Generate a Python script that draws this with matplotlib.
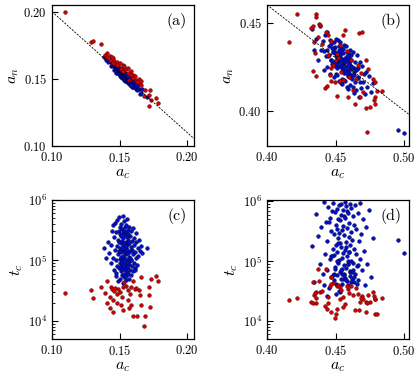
import numpy as np
import matplotlib; matplotlib.use('Agg')
import matplotlib.pyplot as plt
from matplotlib.ticker import FuncFormatter, LogLocator

plt.rcParams.update({
    'font.family': 'serif', 'font.serif': ['cmr10'], 'mathtext.fontset': 'cm',
    'axes.formatter.use_mathtext': True, 'font.size': 9,
    'xtick.direction': 'in', 'ytick.direction': 'in',
})

# ---- system 1: panels (a), (c) ----
ac1_blue = [.1421, .1435, .1440, .1448, .1452, .1455, .1460, .1463, .1466, .1470,
            .1472, .1475, .1477, .1480, .1482, .1484, .1486, .1488, .1490, .1492,
            .1494, .1495, .1497, .1498, .1500, .1501, .1502, .1504, .1505, .1506,
            .1507, .1508, .1510, .1511, .1512, .1513, .1514, .1515, .1516, .1517,
            .1518, .1519, .1520, .1521, .1522, .1523, .1524, .1525, .1526, .1527,
            .1528, .1529, .1530, .1531, .1532, .1533, .1534, .1535, .1536, .1537,
            .1538, .1539, .1540, .1541, .1542, .1543, .1544, .1545, .1546, .1547,
            .1548, .1549, .1550, .1551, .1552, .1553, .1554, .1555, .1556, .1557,
            .1558, .1559, .1560, .1561, .1562, .1563, .1564, .1565, .1566, .1567,
            .1568, .1570, .1572, .1574, .1576, .1578, .1580, .1582, .1584, .1586,
            .1588, .1590, .1592, .1594, .1596, .1598, .1600, .1603, .1606, .1609,
            .1612, .1615, .1618, .1621, .1625, .1629, .1633, .1638, .1643, .1650,
            .1658, .1668, .1700, .1445, .1412, .1385, .1398, .1561, .1587, .1617]
an1_blue = [.1631, .1594, .1626, .1593, .1599, .1565, .1602, .1574, .1610, .1558,
            .1571, .1579, .1545, .1584, .1557, .1593, .1544, .1571, .1544, .1579,
            .1571, .1546, .1582, .1533, .1560, .1534, .1570, .1542, .1552, .1519,
            .1529, .1565, .1537, .1546, .1513, .1554, .1528, .1566, .1517, .1545,
            .1540, .1507, .1548, .1522, .1559, .1510, .1538, .1513, .1549, .1522,
            .1516, .1553, .1504, .1532, .1506, .1542, .1515, .1525, .1492, .1533,
            .1538, .1511, .1520, .1487, .1528, .1502, .1539, .1491, .1519, .1493,
            .1481, .1522, .1496, .1533, .1484, .1512, .1486, .1523, .1496, .1505,
            .1527, .1478, .1506, .1480, .1516, .1489, .1498, .1466, .1507, .1481,
            .1499, .1472, .1507, .1479, .1488, .1454, .1494, .1467, .1503, .1454,
            .1467, .1475, .1441, .1481, .1455, .1491, .1441, .1467, .1440, .1474,
            .1465, .1438, .1473, .1422, .1448, .1419, .1452, .1422, .1427, .1389,
            .1393, .1421, .1366, .1606, .1625, .1662, .1640, .1524, .1453, .1455]
tc1_blue = [1.3e5, 0.9e5, 1.8e5, 3.9e5, 1.1e5, 2.4e5, 0.7e5, 4.2e5, 1.5e5, 0.55e5,
            2.9e5, 1.0e5, 0.62e5, 1.7e5, 4.6e5, 0.8e5, 2.2e5, 1.25e5, 0.45e5, 3.1e5,
            1.4e5, 5.2e5, 0.75e5, 2.0e5, 1.05e5, 0.5e5, 2.7e5, 1.6e5, 0.9e5, 3.6e5,
            0.66e5, 1.9e5, 1.15e5, 4.0e5, 0.8e5, 2.5e5, 1.35e5, 0.58e5, 2.1e5, 1.0e5,
            3.3e5, 0.72e5, 1.55e5, 0.95e5, 2.8e5, 0.42e5, 1.2e5, 5.5e5, 1.75e5, 0.85e5,
            2.3e5, 1.1e5, 0.6e5, 3.0e5, 1.45e5, 0.78e5, 4.4e5, 1.9e5, 0.52e5, 1.3e5,
            0.9e5, 2.6e5, 1.4e5, 0.68e5, 3.5e5, 1.05e5, 2.0e5, 0.47e5, 1.6e5, 2.9e5,
            1.25e5, 0.56e5, 3.8e5, 1.7e5, 0.82e5, 2.4e5, 1.0e5, 0.64e5, 4.8e5, 1.5e5,
            0.74e5, 2.2e5, 1.3e5, 3.2e5, 0.6e5, 1.85e5, 0.95e5, 2.7e5, 0.5e5, 1.15e5,
            1.9e5, 0.88e5, 3.6e5, 1.4e5, 0.7e5, 2.5e5, 1.1e5, 0.58e5, 1.65e5, 3.0e5,
            1.0e5, 2.1e5, 0.8e5, 1.5e5, 3.4e5, 0.66e5, 1.25e5, 2.3e5, 0.9e5, 1.8e5,
            1.35e5, 0.75e5, 2.0e5, 1.1e5, 2.8e5, 0.85e5, 1.6e5, 1.2e5, 2.2e5, 1.4e5,
            1.7e5, 1.3e5, 1.6e5, 3.0e5, 2.0e5, 1.6e5, 1.1e5, 0.8e5, 1.0e5, 0.7e5]

ac1_red = [.1098, .1287, .1304, .1363, .1392, .1404, .1409, .1429, .1453, .1436,
           .1446, .1458, .1466, .1478, .1490, .1502, .1515, .1522, .1534, .1551,
           .1561, .1576, .1588, .1600, .1613, .1625, .1642, .1650, .1564, .1583,
           .1571, .1596, .1627, .1662, .1686, .1681, .1728, .1718, .1718, .1735,
           .1772, .1784, .1662, .1510, .1527, .1453, .1478, .1429]
an1_red = [.2000, .1771, .1785, .1759, .1677, .1690, .1660, .1668, .1652, .1640,
           .1660, .1630, .1612, .1625, .1605, .1618, .1582, .1600, .1594, .1570,
           .1577, .1543, .1560, .1530, .1520, .1490, .1500, .1462, .1540, .1525,
           .1490, .1505, .1475, .1453, .1420, .1372, .1416, .1379, .1295, .1345,
           .1360, .1316, .1480, .1570, .1555, .1620, .1600, .1640]
tc1_red = [2.9e4, 3.2e4, 2.4e4, 3.6e4, 2.9e4, 4.6e4, 2.0e4, 1.6e4, 1.4e4, 3.6e4,
           3.3e4, 3.1e4, 3.5e4, 2.8e4, 3.3e4, 3.0e4, 2.5e4, 3.6e4, 4.4e4, 3.8e4,
           3.2e4, 2.8e4, 3.6e4, 4.6e4, 3.3e4, 3.5e4, 3.2e4, 2.7e4, 2.2e4, 1.8e4,
           1.6e4, 1.2e4, 1.2e4, 1.8e4, 1.2e4, 8.1e3, 1.7e4, 2.7e4, 3.6e4, 4.9e4,
           5.5e4, 4.6e4, 5.3e4, 1.8e4, 1.5e4, 2.2e4, 2.0e4, 2.5e4]

# ---- system 2: panels (b), (d) ----
ac2_blue = [.4330, .4345, .4360, .4372, .4385, .4395, .4405, .4412, .4420, .4428,
            .4435, .4440, .4446, .4452, .4457, .4462, .4466, .4470, .4474, .4478,
            .4482, .4485, .4488, .4491, .4494, .4497, .4500, .4502, .4505, .4507,
            .4510, .4512, .4514, .4516, .4518, .4520, .4522, .4524, .4526, .4528,
            .4530, .4532, .4534, .4536, .4538, .4540, .4542, .4544, .4546, .4548,
            .4550, .4552, .4554, .4556, .4558, .4560, .4562, .4564, .4566, .4568,
            .4570, .4572, .4574, .4576, .4578, .4580, .4582, .4584, .4586, .4588,
            .4590, .4592, .4594, .4596, .4598, .4600, .4602, .4604, .4606, .4608,
            .4610, .4613, .4616, .4619, .4622, .4625, .4628, .4631, .4634, .4637,
            .4640, .4644, .4648, .4652, .4656, .4660, .4665, .4670, .4675, .4680,
            .4686, .4692, .4698, .4705, .4712, .4720, .4730, .4742, .4755, .4770,
            .4438, .4468, .4492, .4515, .4535, .4557, .4579, .4603, .4627, .4655,
            .4455, .4480, .4509, .4541, .4573, .4601, .4633, .4662, .4500, .4550,
            .4495, .4955, .5000, .4528, .4588, .4618, .4418, .4472, .4562, .4610]
an2_blue = [.4462, .4343, .4404, .4287, .4479, .4343, .4397, .4233, .4428, .4313,
            .4249, .4446, .4312, .4369, .4206, .4403, .4290, .4378, .4266, .4333,
            .4351, .4189, .4387, .4275, .4364, .4252, .4320, .4209, .4407, .4276,
            .4244, .4313, .4202, .4400, .4269, .4328, .4167, .4366, .4254, .4343,
            .4392, .4261, .4320, .4158, .4357, .4246, .4335, .4224, .4292, .4181,
            .4150, .4349, .4238, .4326, .4215, .4284, .4173, .4372, .4240, .4299,
            .4278, .4167, .4366, .4234, .4293, .4132, .4331, .4220, .4308, .4197,
            .4226, .4285, .4124, .4322, .4211, .4300, .4189, .4258, .4146, .4345,
            .4314, .4202, .4290, .4179, .4247, .4135, .4333, .4201, .4240, .4098,
            .4276, .4164, .4231, .4120, .4317, .4184, .4241, .4078, .4275, .4162,
            .4128, .4255, .4161, .4207, .4093, .4218, .4132, .4195, .4107, .4158,
            .4347, .4289, .4355, .4281, .4309, .4266, .4213, .4248, .4204, .4237,
            .4317, .4332, .4265, .4285, .4236, .4269, .4220, .4193, .4310, .4260,
            .4333, .3893, .3873, .4263, .4257, .4249, .4339, .4357, .4253, .4234]
tc2_blue = [1.8e5, 0.45e5, 6.2e5, 2.6e5, 0.9e5, 3.8e5, 0.62e5, 9.6e5, 1.3e5, 4.5e5,
            0.7e5, 2.2e5, 8.1e5, 0.36e5, 5.3e5, 1.1e5, 3.2e5, 0.55e5, 7.0e5, 1.6e5,
            9.4e5, 0.48e5, 2.9e5, 1.25e5, 6.6e5, 0.8e5, 4.1e5, 0.42e5, 1.9e5, 3.5e5,
            0.58e5, 7.6e5, 1.45e5, 0.95e5, 5.0e5, 2.4e5, 0.38e5, 8.8e5, 1.05e5, 3.0e5,
            2.0e5, 0.66e5, 4.8e5, 9.2e5, 0.5e5, 1.7e5, 6.0e5, 0.75e5, 3.3e5, 1.15e5,
            0.42e5, 3.9e5, 1.35e5, 7.3e5, 0.85e5, 2.7e5, 0.6e5, 5.6e5, 1.55e5, 9.8e5,
            5.2e5, 0.52e5, 2.1e5, 0.78e5, 8.4e5, 1.2e5, 3.6e5, 0.46e5, 6.9e5, 1.0e5,
            0.88e5, 6.3e5, 0.4e5, 2.5e5, 1.4e5, 4.4e5, 0.68e5, 9.0e5, 1.85e5, 0.56e5,
            3.1e5, 1.0e5, 7.8e5, 0.5e5, 2.3e5, 0.72e5, 5.8e5, 1.6e5, 0.44e5, 4.0e5,
            0.62e5, 8.6e5, 1.3e5, 3.4e5, 0.82e5, 6.5e5, 0.48e5, 2.2e5, 9.5e5, 1.1e5,
            2.8e5, 0.7e5, 5.1e5, 1.5e5, 0.4e5, 3.7e5, 0.9e5, 7.2e5, 0.55e5, 2.4e5,
            0.26e5, 1.2e5, 0.6e5, 2.0e5, 0.3e5, 0.5e5, 1.7e5, 0.65e5, 0.95e5, 0.42e5,
            4.6e5, 0.58e5, 1.0e5, 0.7e5, 0.48e5, 1.4e5, 0.55e5, 0.85e5, 0.28e5, 0.6e5,
            0.75e5, 2.3e5, 1.38e5, 0.32e5, 0.9e5, 0.65e5, 0.4e5, 1.2e5, 0.58e5, 0.45e5]

ac2_red = [.4158, .4219, .4355, .4355, .4324, .4336, .4377, .4384, .4433, .4445,
           .4567, .4669, .4696, .4725, .4737, .4776, .4786, .4842, .4786, .4780,
           .4725, .4754, .4791, .4676, .4640, .4732, .4513, .4421, .4438, .4465,
           .4495, .4530, .4555, .4355, .4336, .4457, .4628, .4592, .4697, .4341,
           .4350, .4401, .4445, .4510, .4555, .4530, .4580, .4664, .4689, .4375,
           .4610, .4480, .4540, .4600, .4500, .4805, .4470, .4520, .4650, .4470]
an2_red = [.4392, .4551, .4551, .4534, .4471, .4482, .4490, .4485, .4449, .4430,
           .4460, .4439, .4449, .4285, .4234, .4177, .4160, .4114, .4076, .4062,
           .4015, .4021, .4040, .4080, .4038, .3878, .4082, .4129, .4140, .4167,
           .4160, .4167, .4175, .4196, .4224, .4205, .4120, .4080, .4105, .4392,
           .4330, .4376, .4316, .4320, .4428, .4370, .4340, .4262, .4215, .4420,
           .4290, .4260, .4220, .4190, .4290, .4110, .4240, .4300, .4180, .4395]
tc2_red = [2.2e4, 2.4e4, 2.4e4, 2.0e4, 2.1e4, 4.4e4, 4.6e4, 3.0e4, 7.4e4, 2.5e4,
           1.9e4, 1.5e4, 2.6e4, 2.1e4, 2.7e4, 3.0e4, 2.3e4, 2.4e4, 1.3e4, 2.6e4,
           1.4e4, 2.1e4, 2.3e4, 2.1e4, 1.5e4, 2.0e4, 1.6e4, 1.8e4, 1.6e4, 1.4e4,
           1.1e4, 2.3e4, 1.7e4, 3.0e4, 2.0e4, 3.8e4, 2.7e4, 3.4e4, 2.3e4, 2.7e4,
           2.9e4, 3.2e4, 2.0e4, 3.8e4, 2.5e4, 3.7e4, 3.8e4, 2.8e4, 2.4e4, 7.4e4,
           3.8e4, 4.3e4, 3.3e4, 2.9e4, 1.3e4, 1.3e4, 5.5e4, 4.0e4, 3.5e4, 4.1e4]

# guide lines (end points)
line1_x = [0.10, 0.205]
line1_y = [0.200, 0.1055]
line2_x = [0.40, 0.505]
line2_y = [0.460, 0.397]

BLUE = '#0010c8'
RED = '#d40000'
kw = dict(s=7, linewidths=0.35, zorder=3)

fig = plt.figure(figsize=(4.15, 3.8), dpi=100)
ax_a = fig.add_axes([0.1253, 0.616, 0.342, 0.371])
ax_b = fig.add_axes([0.6434, 0.616, 0.342, 0.371])
ax_c = fig.add_axes([0.1253, 0.108, 0.342, 0.366])
ax_d = fig.add_axes([0.6434, 0.108, 0.342, 0.366])

fmt2 = FuncFormatter(lambda v, p: f'${v:.2f}$')

def style(ax, label):
    ax.tick_params(which='major', length=4, width=0.8, labelsize=9)
    ax.tick_params(which='minor', length=2, width=0.6)
    for sp in ax.spines.values():
        sp.set_linewidth(0.9)
    ax.text(0.95, 0.94, label, transform=ax.transAxes, ha='right', va='top', fontsize=11.5)
    ax.set_xlabel('$a_c$', fontsize=11.5, labelpad=2)
    ax.xaxis.set_major_formatter(fmt2)

# (a)
ax = ax_a
ax.plot(line1_x, line1_y, 'k--', lw=0.6, dashes=(2.5, 1.5), zorder=4)
ax.scatter(ac1_blue, an1_blue, c=BLUE, edgecolors='#000050', **kw)
ax.scatter(ac1_red, an1_red, c=RED, edgecolors='#500000', **kw)
ax.set_xlim(0.10, 0.205); ax.set_ylim(0.10, 0.205)
ax.set_xticks([0.10, 0.15, 0.20]); ax.set_yticks([0.10, 0.15, 0.20])
ax.yaxis.set_major_formatter(fmt2)
ax.set_ylabel('$a_n$', fontsize=11.5, labelpad=2)
style(ax, '(a)')

# (b)
ax = ax_b
ax.plot(line2_x, line2_y, 'k--', lw=0.6, dashes=(2.5, 1.5), zorder=4)
ax.scatter(ac2_blue, an2_blue, c=BLUE, edgecolors='#000050', **kw)
ax.scatter(ac2_red, an2_red, c=RED, edgecolors='#500000', **kw)
ax.set_xlim(0.40, 0.5035); ax.set_ylim(0.38, 0.46)
ax.set_xticks([0.40, 0.45, 0.50]); ax.set_yticks([0.40, 0.45])
ax.yaxis.set_major_formatter(fmt2)
ax.set_ylabel('$a_n$', fontsize=11.5, labelpad=2)
style(ax, '(b)')

# (c)
ax = ax_c
ax.scatter(ac1_blue, tc1_blue, c=BLUE, edgecolors='#000050', **kw)
ax.scatter(ac1_red, tc1_red, c=RED, edgecolors='#500000', **kw)
ax.set_yscale('log')
ax.set_xlim(0.10, 0.205); ax.set_ylim(5e3, 1e6)
ax.set_xticks([0.10, 0.15, 0.20])
ax.yaxis.set_minor_locator(LogLocator(base=10, subs=np.arange(2, 10)))
ax.set_ylabel('$t_c$', fontsize=11.5, labelpad=2)
style(ax, '(c)')

# (d)
ax = ax_d
ax.scatter(ac2_blue, tc2_blue, c=BLUE, edgecolors='#000050', **kw)
ax.scatter(ac2_red, tc2_red, c=RED, edgecolors='#500000', **kw)
ax.set_yscale('log')
ax.set_xlim(0.40, 0.5035); ax.set_ylim(5e3, 1.06e6)
ax.set_xticks([0.40, 0.45, 0.50])
ax.yaxis.set_minor_locator(LogLocator(base=10, subs=np.arange(2, 10)))
ax.set_ylabel('$t_c$', fontsize=11.5, labelpad=2)
style(ax, '(d)')

fig.savefig('out.png', dpi=100)
